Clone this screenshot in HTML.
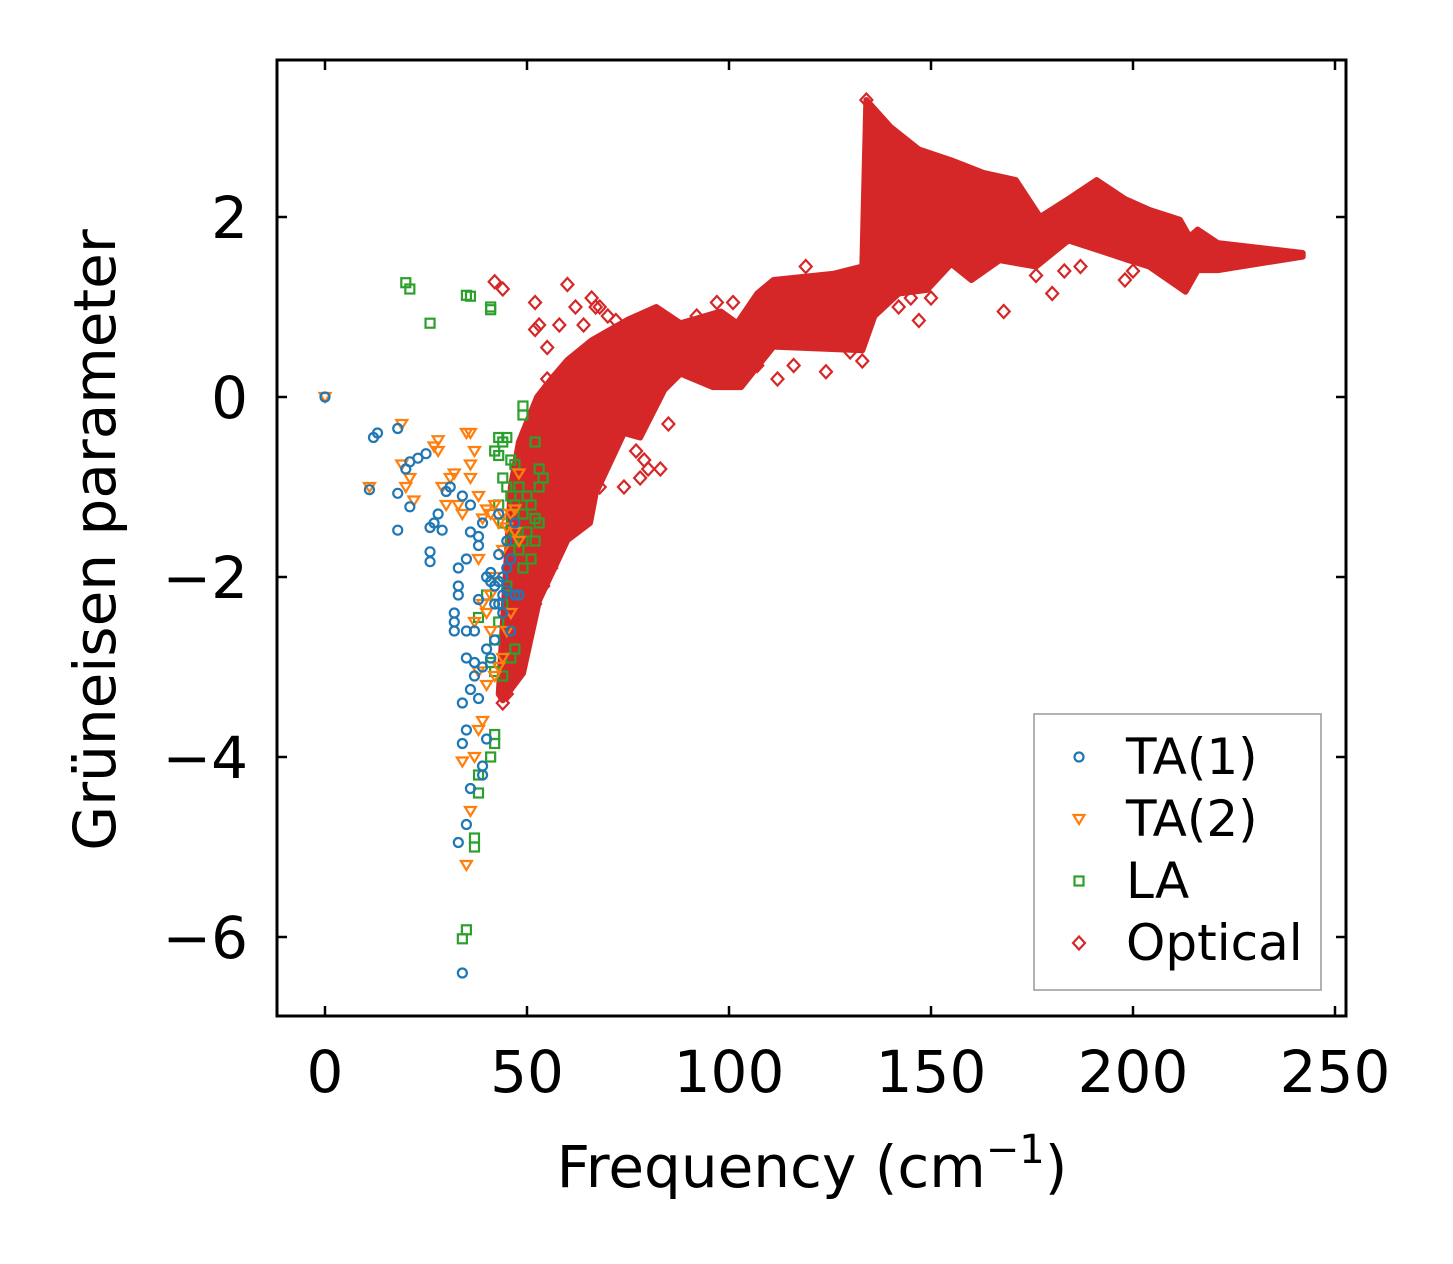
<!DOCTYPE html>
<html><head><meta charset="utf-8"><style>
html,body{margin:0;padding:0;background:#fff}
svg{display:block}
text{font-family:"DejaVu Sans","Liberation Sans",sans-serif;fill:#000}
</style></head><body>
<svg id="chart" width="1453" height="1264" viewBox="0 0 1453 1264" xmlns="http://www.w3.org/2000/svg">
<rect width="1453" height="1264" fill="#fff"/>
<g id="ticks"></g>
<g id="band"></g>
<g id="marks"></g>
<rect x="277" y="60" width="1069" height="956" fill="none" stroke="#000" stroke-width="3"/>
<text x="812" y="1187" font-size="58" text-anchor="middle">Frequency (cm<tspan font-size="40" dy="-24">−1</tspan><tspan dy="24">)</tspan></text>
<text transform="translate(115,540) rotate(-90)" font-size="58" text-anchor="middle">Grüneisen parameter</text>
<g>
<rect x="1034" y="714" width="287" height="276" fill="#fff" stroke="#999" stroke-width="1.5"/>
<g id="legend-items"></g>
</g>
</svg>
<script>
const xTicks=[0,50,100,150,200,250];
const yTicks=[2,0,-2,-4,-6];
const yTickLabels=["2","0","−2","−4","−6"];
const ta1=[[0,0],[11,-1.03],[12,-0.45],[13,-0.4],[18,-0.35],[18,-1.07],[18,-1.48],[20,-0.8],[21,-0.72],[21,-1.22],[23,-0.68],[25,-0.63],[26,-1.72],[26,-1.83],[26,-1.45],[27,-1.4],[28,-1.3],[29,-1.48],[30,-1.05],[31,-1.0],[32,-2.5],[32,-2.4],[32,-2.6],[33,-2.1],[33,-2.2],[33,-1.9],[34,-3.4],[34,-3.85],[33,-4.95],[34,-6.4],[35,-4.75],[35,-3.7],[35,-2.9],[35,-1.8],[36,-1.5],[36,-4.35],[36,-3.25],[37,-3.1],[37,-2.95],[37,-2.6],[38,-2.25],[38,-1.65],[38,-1.55],[39,-1.4],[39,-4.2],[39,-4.1],[40,-3.8],[40,-2.0],[41,-1.95],[42,-2.3],[42,-2.7],[43,-2.05],[43,-1.75],[44,-2.0],[45,-2.15],[45,-1.6],[46,-2.6],[47,-2.2],[47,-1.4],[48,-2.2],[38,-3.35],[36,-1.2],[34,-1.1],[39,-3.0],[41,-2.9],[44,-2.4],[46,-1.8],[35,-2.6],[40,-2.8],[43,-1.3],[42,-2.1],[44,-2.2],[45,-1.9],[43,-2.3],[41,-2.05]];
const ta2=[[0,0],[11,-1.0],[19,-0.3],[19,-0.75],[20,-1.0],[21,-0.9],[22,-1.15],[27,-0.55],[28,-0.48],[28,-0.6],[29,-1.0],[30,-1.2],[31,-0.9],[32,-0.85],[33,-1.2],[34,-1.3],[35,-0.4],[36,-0.4],[36,-0.75],[36,-0.9],[37,-0.6],[38,-1.1],[38,-1.8],[39,-1.35],[40,-1.25],[41,-1.3],[42,-1.2],[43,-1.4],[44,-1.3],[45,-1.45],[46,-1.3],[47,-1.25],[48,-0.85],[47,-1.5],[48,-1.6],[44,-1.7],[42,-2.0],[41,-2.6],[40,-3.2],[39,-3.6],[38,-3.7],[37,-4.0],[34,-4.05],[35,-5.2],[36,-4.6],[38,-3.05],[40,-2.4],[42,-3.1],[44,-2.9],[46,-2.4],[43,-3.0],[41,-2.2],[45,-2.6],[39,-2.3],[37,-2.5]];
const la=[[20,1.27],[21,1.2],[26,0.82],[35,1.13],[36,1.12],[41,1.0],[41,0.97],[49,-0.1],[49,-0.2],[43,-0.45],[44,-0.5],[45,-0.45],[42,-0.6],[43,-0.65],[46,-0.7],[47,-0.75],[44,-0.9],[45,-1.0],[46,-1.1],[47,-1.2],[48,-1.0],[49,-1.3],[50,-1.1],[51,-1.2],[52,-1.35],[53,-1.4],[52,-0.5],[53,-0.8],[54,-0.9],[53,-1.0],[50,-1.5],[52,-1.6],[51,-1.8],[49,-1.9],[48,-1.7],[47,-1.5],[46,-1.6],[45,-2.1],[44,-2.3],[43,-2.5],[42,-2.7],[41,-2.95],[42,-3.05],[44,-3.1],[46,-2.9],[47,-2.8],[42,-3.75],[42,-3.85],[41,-4.0],[38,-4.2],[38,-4.4],[37,-4.9],[37,-5.0],[35,-5.92],[34,-6.02],[38,-2.45],[40,-2.2],[43,-1.2],[44,-1.4],[49,-1.6]];
const optical=[[42,1.28],[44,1.2],[52,1.05],[53,0.8],[52,0.75],[55,0.55],[58,0.8],[60,1.25],[62,1.0],[64,0.8],[66,1.1],[67,1.0],[68,1.0],[70,0.9],[72,0.85],[55,0.2],[57,0.15],[60,0.3],[62,0.4],[58,-0.9],[57,-1.6],[68,-1.0],[74,-1.0],[80,-0.8],[83,-0.8],[78,-0.9],[85,-0.3],[92,0.9],[97,1.05],[101,1.05],[107,0.35],[112,0.2],[116,0.35],[119,1.45],[124,0.28],[130,0.5],[133,0.4],[134,3.3],[135,3.2],[137,3.1],[137,2.4],[138,2.1],[138,1.85],[141,1.2],[144,1.25],[147,0.85],[150,1.1],[168,0.95],[176,1.35],[180,1.15],[183,1.4],[187,1.45],[198,1.3],[200,1.4],[44,-3.4],[45,-3.3],[49,-2.7],[52,-2.3],[56,-1.9],[50,-2.5],[54,-2.1],[77,-0.6],[79,-0.7],[142,1.0],[145,1.1]];
const upperFreq=[43,46,48,52.5,56,60,66,75,82,88,98,102,107,111,126,133,134,140,147,155,163,171,177,184,191,198,204,211.6,214,216,221,242];
const upperVal=[-3.3,-1.0,-0.5,0,0.2,0.41,0.63,0.86,1.0,0.82,0.95,0.82,1.15,1.3,1.37,1.45,3.3,3.0,2.75,2.63,2.49,2.41,2.0,2.2,2.41,2.2,2.08,1.97,1.78,1.86,1.71,1.6];
const lowerFreq=[242,221,216,213,204,199,193.6,184,176,167,160,155,149,142,136,133,111,103,96,88,84,78,74,67,65.6,60,53,49,44];
const lowerVal=[1.56,1.41,1.41,1.17,1.45,1.52,1.6,1.74,1.45,1.52,1.3,1.48,1.19,1.15,0.9,0.52,0.56,0.11,0.11,0.26,0.08,-0.45,-0.4,-1.07,-1.4,-1.59,-2.26,-3.07,-3.37];

const NS="http://www.w3.org/2000/svg";
const X=v=>325+v*4.04;
const Y=v=>397-v*90;
function mk(tag,attrs,parent){const e=document.createElementNS(NS,tag);for(const k in attrs)e.setAttribute(k,attrs[k]);parent.appendChild(e);return e;}
const tg=document.getElementById('ticks');
xTicks.forEach(t=>{
  const x=X(t);
  let l=mk('line',{x1:x,x2:x,y1:1016,y2:1006,stroke:'#000','stroke-width':2.5},tg);
  
  
  let l2=mk('line',{x1:x,x2:x,y1:60,y2:70,stroke:'#000','stroke-width':2.5},tg);
  
  
  const tx=mk('text',{x:x,y:1092,'font-size':58,'text-anchor':'middle'},tg);
  tx.textContent=String(t);
  
  
});
yTicks.forEach((t,i)=>{
  const y=Y(t);
  let l=mk('line',{x1:277,x2:287,y1:y,y2:y,stroke:'#000','stroke-width':2.5},tg);
  
  
  let l2=mk('line',{x1:1346,x2:1336,y1:y,y2:y,stroke:'#000','stroke-width':2.5},tg);
  
  
  const tx=mk('text',{x:248,y:y+21,'font-size':58,'text-anchor':'end'},tg);
  tx.textContent=yTickLabels[i];
  
  
});
const bg=document.getElementById('band');
let pts=upperFreq.map((f,i)=>X(f)+','+Y(upperVal[i]));
lowerFreq.forEach((f,i)=>pts.push(X(f)+','+Y(lowerVal[i])));
const poly=mk('polygon',{points:pts.join(' '),fill:'#d62728',stroke:'#d62728','stroke-width':6,'stroke-linejoin':'round'},bg);


const mg=document.getElementById('marks');
function marker(kind,x,y,col,g){
  let e;
  if(kind==='o')e=mk('circle',{cx:x,cy:y,r:4.5,fill:'none',stroke:col,'stroke-width':2.2},g);
  else if(kind==='v')e=mk('polygon',{points:`${x-5.5},${y-4} ${x+5.5},${y-4} ${x},${y+5}`,fill:'none',stroke:col,'stroke-width':2.2},g);
  else if(kind==='s')e=mk('rect',{x:x-4.5,y:y-4.5,width:9,height:9,fill:'none',stroke:col,'stroke-width':2.2},g);
  else e=mk('polygon',{points:`${x},${y-6.5} ${x+6},${y} ${x},${y+6.5} ${x-6},${y}`,fill:'none',stroke:col,'stroke-width':2.2},g);
  return e;
}
const series=[['optical',optical,'d','#d62728'],['la',la,'s','#2ca02c'],['ta2',ta2,'v','#ff7f0e'],['ta1',ta1,'o','#1f77b4']];
series.forEach(([nm,data,k,c])=>{
  data.forEach(p=>{
    const e=marker(k,X(p[0]),Y(p[1]),c,mg);
    
    
  });
});
const lg=document.getElementById('legend-items');
const legendLabels=['TA(1)','TA(2)','LA','Optical'];
const legendKinds=[['o','#1f77b4'],['v','#ff7f0e'],['s','#2ca02c'],['d','#d62728']];
legendLabels.forEach((lab,i)=>{
  const y=757+i*62;
  const m=marker(legendKinds[i][0],1079,y,legendKinds[i][1],lg);
  
  
  const t=mk('text',{x:1126,y:y+17,'font-size':50},lg);
  t.textContent=lab;
  
  
});
</script>
</body></html>
